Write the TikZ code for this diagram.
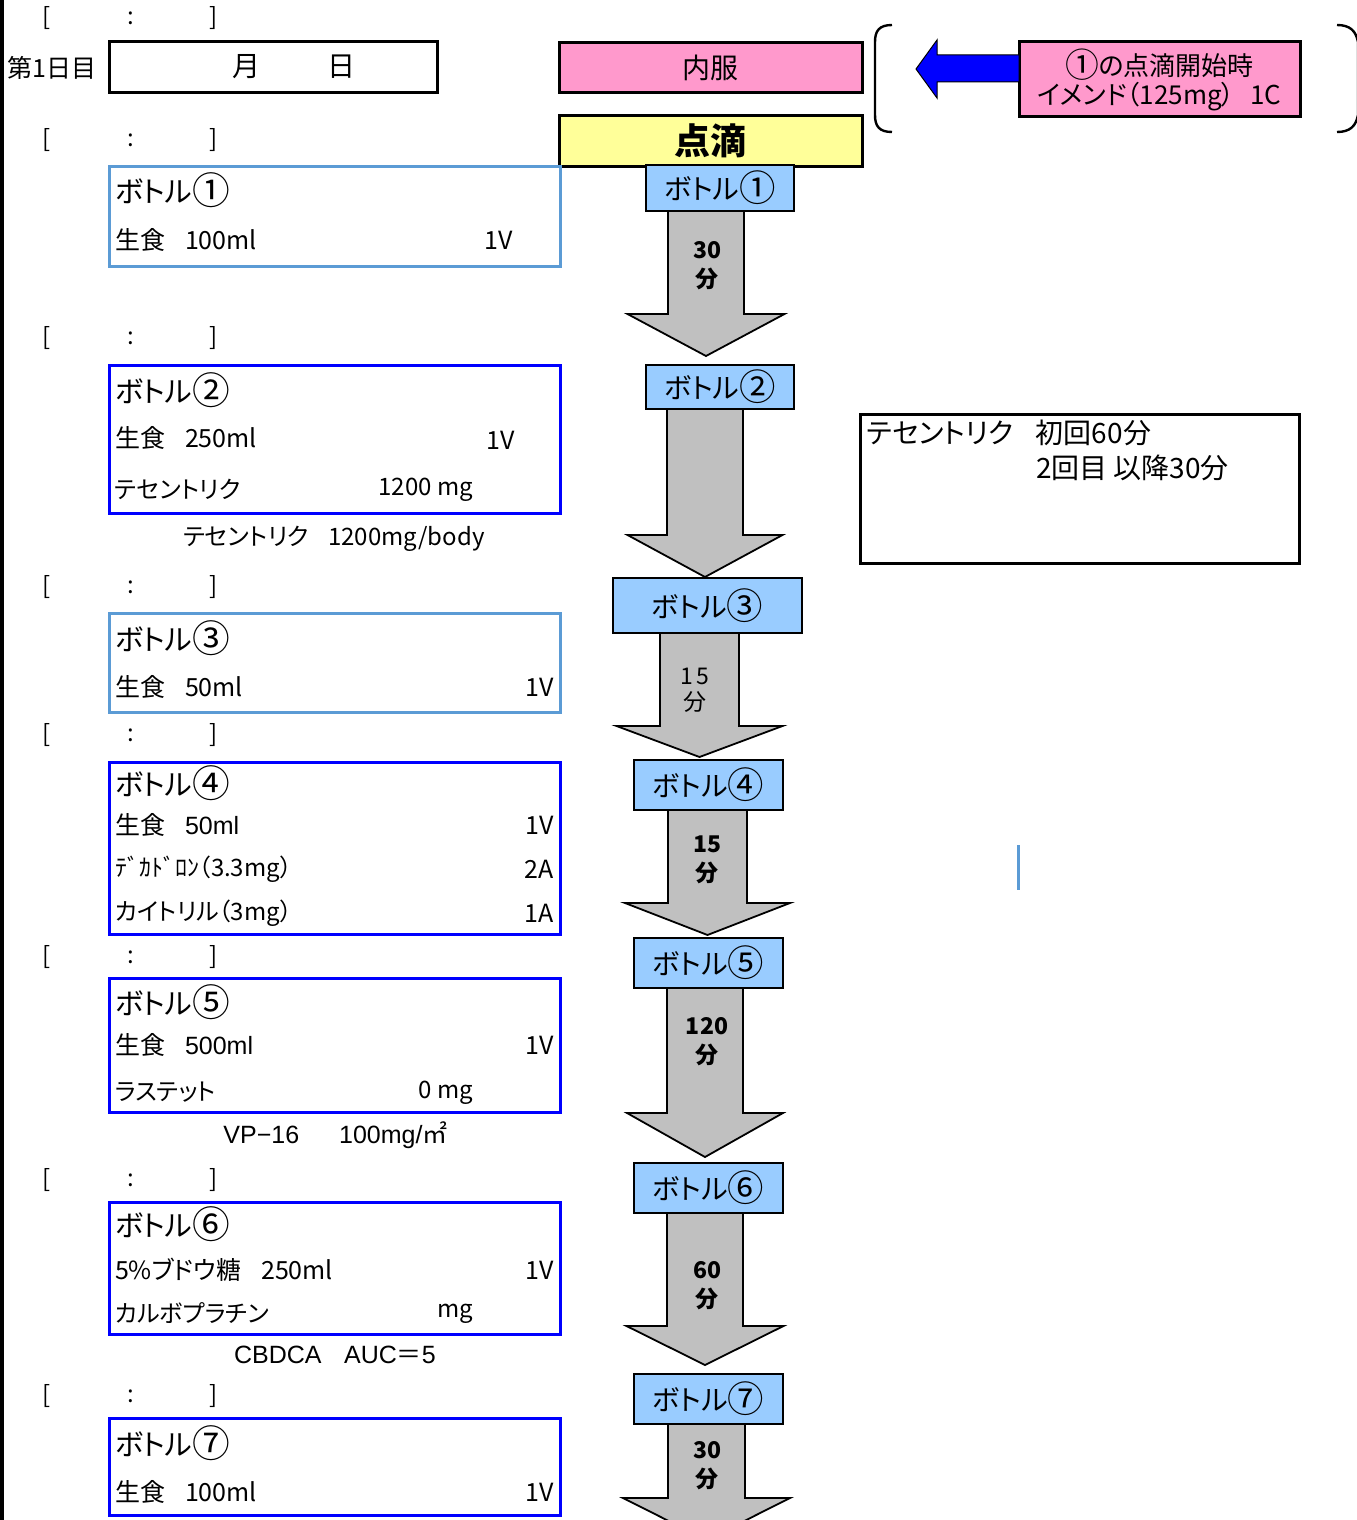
\documentclass[tikz,border=0pt]{standalone}
\usepackage{fontspec}
\setmainfont{Noto Sans CJK JP}[RawFeature=+palt]
\newfontfamily\latf{Liberation Sans}
\usetikzlibrary{calc}
\definecolor{pinkf}{HTML}{FF99CC}
\definecolor{yellowf}{HTML}{FFFF99}
\definecolor{bottlec}{HTML}{99CCFF}
\definecolor{grayf}{HTML}{C0C0C0}
\definecolor{boxlight}{HTML}{5B9BD5}
\definecolor{boxblue}{HTML}{0000FF}
\newcommand\myfs[1]{\fontsize{#1}{#1}\selectfont}
\newcommand\cnum[1]{\raisebox{-0.08em}{\scalebox{1.3}{#1}}}
\newcommand\blockarr[6]{%
  \draw[blk] ({#1-#5},#2) -- ({#1-#5},#3) -- ({#1-#6},#3) -- (#1,#4) -- ({#1+#6},#3) -- ({#1+#5},#3) -- ({#1+#5},#2) -- cycle;}
\tikzset{
  every node/.style={inner sep=0pt, outer sep=0pt},
  tm/.style={font=\myfs{12}},
  lt/.style={anchor=west, font=\myfs{12.5}},
  ls/.style={anchor=west, font=\myfs{12}},
  rt/.style={anchor=east, font=\myfs{12.5}},
  ttl/.style={anchor=west, font=\myfs{14.5}},
  ctr/.style={font=\myfs{12.5}},
  infolight/.style={draw=boxlight, line width=1.5pt, minimum width=225.5pt},
  infoblue/.style={draw=boxblue, line width=1.5pt, minimum width=225.5pt},
  bottle/.style={draw=black, line width=1pt, fill=bottlec, font=\myfs{14}, minimum width=74.5pt, minimum height=25pt},
  blk/.style={fill=grayf, draw=black, line width=0.9pt, line join=miter},
  alab/.style={font=\bfseries\fontsize{11.5}{14.5}\selectfont, align=center},
  hdr/.style={draw=black, line width=1.5pt, minimum width=151.5pt, minimum height=25pt},
}
\begin{document}
\begin{tikzpicture}[x=0.5pt,y=-0.5pt]
\useasboundingbox (0,0) rectangle (1356,1520);
\fill[black] (0,0) rectangle (3.5,1520);

% time brackets
\foreach \yy [count=\i] in {18,140,338,587,735,957,1180,1396} {
  \node[tm] (tl\i) at (47,\yy) {[};
  \node[tm] (tc\i) at (131,\yy) {:};
  \node[tm] (tr\i) at (214,\yy) {]};
}

% date row
\node[anchor=west, font=\myfs{12.5}] (day) at (8,68) {第1日目};
\node[draw=black, line width=1.5pt, minimum width=164pt, minimum height=25.5pt] (datebox) at (273,67.5) {};
\node[font=\myfs{14}] (mon) at (246,67) {月};
\node[font=\myfs{14}] (dd) at (341,67) {日};

% header boxes
\node[hdr, fill=pinkf, font=\myfs{14}] (naifuku) at (710.5,67.5) {内服};
\node[hdr, fill=yellowf, font=\bfseries\myfs{18}] (tenteki) at (710.5,141) {点滴};

% right note with arrow and brackets
\node[draw=black, line width=1.5pt, fill=pinkf, minimum width=140.5pt, minimum height=37.5pt,
      font=\fontsize{13}{14.5}\selectfont, align=center] (emend) at (1159.5,79.5) {\cnum{①}の点滴開始時\\イメンド（125mg）\hspace{0.6em}1C};
\draw[fill=boxblue, draw=black, line width=0.5pt] (1019,55) -- (937,55) -- (937,40) -- (916,69) -- (937,98) -- (937,82) -- (1019,82) -- cycle;
\draw[line width=1.2pt] (892,25) .. controls (879,25) and (875,31) .. (875,42) -- (875,115) .. controls (875,126) and (879,132) .. (892,132);
\draw[line width=1.2pt] (1337,25) .. controls (1350,25) and (1356,31) .. (1358,42) -- (1358,115) .. controls (1356,126) and (1350,132) .. (1337,132);

% block arrows
\blockarr{706}{211}{314}{356}{38}{78.5}
\blockarr{705}{409}{535}{577}{38}{77.5}
\blockarr{699.5}{633}{726}{757}{39.5}{83}
\blockarr{707.5}{810}{903}{935}{39.5}{82.5}
\blockarr{705}{988}{1113}{1157}{38}{78}
\blockarr{705}{1213}{1326}{1365}{38}{78.5}
\blockarr{706.5}{1424}{1498}{1540}{38.5}{83.5}

\node[alab] (l1) at (707,265.5) {30\\分};
\node[font=\fontsize{11.5}{13}\selectfont, align=center] (l3) at (695,690) {1\,5\\分};
\node[alab] (l4) at (707,860) {15\\分};
\node[alab] (l5) at (707,1042) {120\\分};
\node[alab] (l6) at (707,1286) {60\\分};
\node[alab] (l7) at (707,1466) {30\\分};

% bottle boxes (flow)
\node[bottle, minimum width=74pt, minimum height=23pt] (b1) at (720,188) {ボトル\cnum{①}};
\node[bottle, minimum width=74pt, minimum height=22pt] (b2) at (720,387) {ボトル\cnum{②}};
\node[bottle, minimum width=94.5pt, minimum height=27.5pt] (b3) at (707.5,605.5) {ボトル\cnum{③}};
\node[bottle] (b4) at (708.5,785) {ボトル\cnum{④}};
\node[bottle] (b5) at (708.5,963) {ボトル\cnum{⑤}};
\node[bottle] (b6) at (708.5,1188) {ボトル\cnum{⑥}};
\node[bottle] (b7) at (708.5,1399) {ボトル\cnum{⑦}};

% info boxes
\node[infolight, minimum height=50pt] (ib1) at (334.5,216) {};
\node[ttl] (ib1t) at (115,190) {ボトル\cnum{①}};
\node[lt] (ib1a) at (115,240) {生食\hspace{0.8em}100ml};
\node[rt] (ib1b) at (513,240) {1V};

\node[infoblue, minimum height=74pt] (ib2) at (334.5,439) {};
\node[ttl] (ib2t) at (115,390) {ボトル\cnum{②}};
\node[lt] (ib2a) at (115,438) {生食\hspace{0.8em}250ml};
\node[rt] (ib2b) at (515,440) {1V};
\node[ls] (ib2c) at (115,489) {テセントリク};
\node[rt, font=\myfs{12}] (ib2d) at (473,490) {1200 mg};
\node[ctr, font=\myfs{12}] (n2) at (334,539) {テセントリク\hspace{0.8em}1200mg/body};

\node[infolight, minimum height=49.5pt] (ib3) at (334.5,662.5) {};
\node[ttl] (ib3t) at (115,638) {ボトル\cnum{③}};
\node[lt] (ib3a) at (115,687) {生食\hspace{0.8em}50ml};
\node[rt] (ib3b) at (554,687) {1V};

\node[infoblue, minimum height=86pt] (ib4) at (334.5,848) {};
\node[ttl] (ib4t) at (115,783) {ボトル\cnum{④}};
\node[lt] (ib4a) at (115,825) {生食\hspace{0.8em}{\latf 50ml}};
\node[rt] (ib4b) at (554,825) {1V};
\node[ls] (ib4c) at (115,869) {ﾃﾞｶﾄﾞﾛﾝ（3.3mg）};
\node[rt] (ib4d) at (554,869) {2A};
\node[ls] (ib4e) at (115,913) {カイトリル（3mg）};
\node[rt] (ib4f) at (554,913) {1A};

\node[infoblue, minimum height=67pt] (ib5) at (334.5,1045) {};
\node[ttl] (ib5t) at (115,1002) {ボトル\cnum{⑤}};
\node[lt] (ib5a) at (115,1045) {生食\hspace{0.8em}{\latf 500ml}};
\node[rt] (ib5b) at (554,1045) {1V};
\node[ls] (ib5c) at (115,1092) {ラステット};
\node[rt, font=\myfs{12}] (ib5d) at (473,1093) {0 mg};
\node[ctr] (n5) at (335.5,1135) {{\latf VP−16}\hspace{1.6em}{\latf 100mg/}㎡};

\node[infoblue, minimum height=66pt] (ib6) at (334.5,1268) {};
\node[ttl] (ib6t) at (115,1224) {ボトル\cnum{⑥}};
\node[lt] (ib6a) at (115,1270) {5\%ブドウ糖\hspace{0.8em}250ml};
\node[rt] (ib6b) at (554,1270) {1V};
\node[ls] (ib6c) at (115,1313) {カルボプラチン};
\node[rt, font=\myfs{12}] (ib6d) at (473,1314) {mg};
\node[ctr] (n6) at (335,1355) {{\latf CBDCA}\hspace{0.9em}{\latf AUC}＝{\latf 5}};

\node[infoblue, minimum height=48.5pt] (ib7) at (334.5,1466.5) {};
\node[ttl] (ib7t) at (115,1443) {ボトル\cnum{⑦}};
\node[lt] (ib7a) at (115,1492) {生食\hspace{0.8em}100ml};
\node[rt] (ib7b) at (554,1492) {1V};

% right note box
\node[draw=black, line width=1.5pt, minimum width=219.5pt, minimum height=74.5pt] (rb) at (1079.5,488.5) {};
\node[anchor=west, font=\myfs{14}] (rb1) at (867,433) {テセントリク\hspace{0.8em}初回60分};
\node[anchor=west, font=\myfs{14}] (rb2) at (1036,468) {2回目 以降30分};

\draw[boxlight, line width=1.5pt] (1018,845) -- (1018,890);
\end{tikzpicture}
\end{document}
